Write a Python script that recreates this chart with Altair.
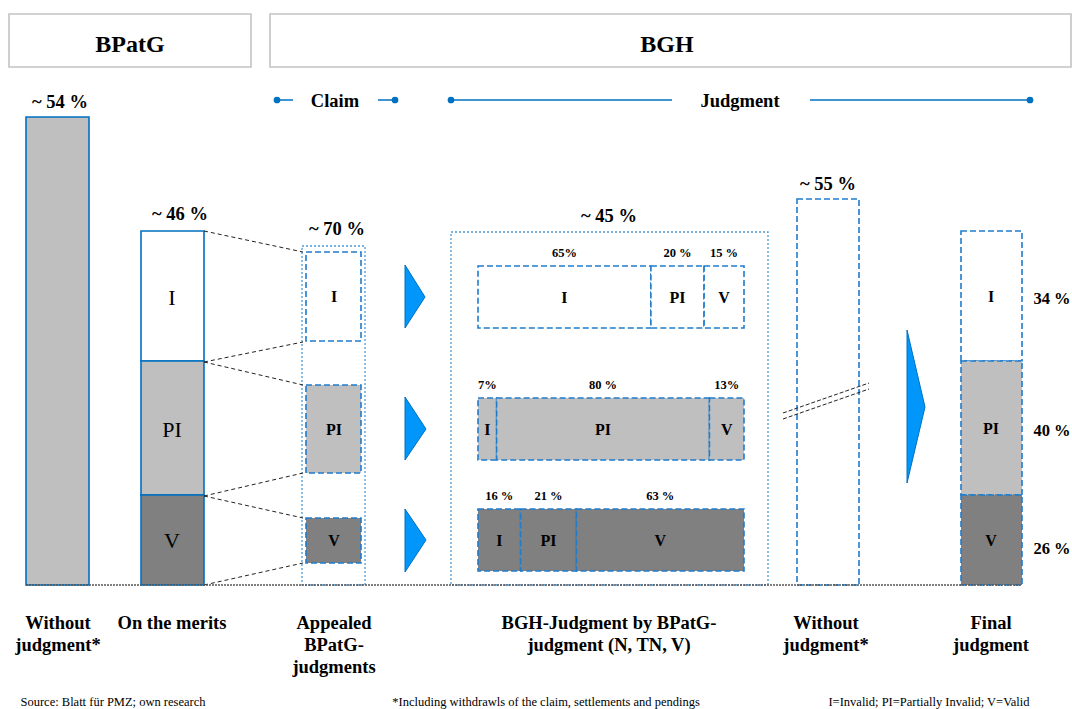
import altair as alt
import pandas as pd

# ---------------- data ----------------
categories = ["I", "PI", "V"]
courts = ["BPatG", "BGH"]
phases = ["Claim", "Judgment"]
stage_totals = ["~ 54 %", "~ 46 %", "~ 70 %", "~ 45 %", "~ 55 %"]
bgh_row_shares = [[65, 20, 15], [7, 80, 13], [16, 21, 63]]
bgh_row_labels = [["65%", "20 %", "15 %"], ["7%", "80 %", "13%"], ["16 %", "21 %", "63 %"]]
final_labels = ["34 %", "40 %", "26 %"]
stage_names = [
    "Without\njudgment*",
    "On the merits",
    "Appealed\nBPatG-\njudgments",
    "BGH-Judgment by BPatG-\njudgment (N, TN, V)",
    "Without\njudgment*",
    "Final\njudgment",
]
footnotes = [
    "Source: Blatt für PMZ; own research",
    "*Including withdrawls of the claim, settlements and pendings",
    "I=Invalid; PI=Partially Invalid; V=Valid",
]

# ---------------- layout / style ----------------
W, H = 1072, 709
FONT = "Liberation Serif, Times New Roman, DejaVu Serif, serif"
BASE = 585
cat_fill = {"I": "#ffffff", "PI": "#bfbfbf", "V": "#808080"}
BLUE = "#0070c0"
DASH_BLUE = "#1f7ccc"
DOT_BLUE = "#4b9bd8"

stack_bounds = [231, 361, 495, 585]          # schematic vertical stacks
appealed_boxes = [(252, 341), (385, 473), (518, 563)]
row_y = [(266, 328), (398, 460), (509, 571)]
ROW_X0, ROW_W = 478, 266

xs = alt.Scale(domain=[0, W], nice=False, zero=False)
ys = alt.Scale(domain=[0, H], nice=False, zero=False, reverse=True)


def X(f):
    return alt.X(f"{f}:Q", scale=xs, axis=None)


def Y(f):
    return alt.Y(f"{f}:Q", scale=ys, axis=None)


def rect_layer(rows, **style):
    df = pd.DataFrame(rows, columns=["x0", "x1", "y0", "y1", "fill"])
    return alt.Chart(df).mark_rect(**style).encode(
        x=X("x0"), x2=alt.X2("x1"), y=Y("y0"), y2=alt.Y2("y1"),
        fill=alt.Fill("fill:N", scale=None),
    )


def rule_layer(rows, **style):
    df = pd.DataFrame(rows, columns=["xa", "ya", "xb", "yb"])
    return alt.Chart(df).mark_rule(**style).encode(
        x=X("xa"), y=Y("ya"), x2=alt.X2("xb"), y2=alt.Y2("yb"))


def text_layer(rows, weight="bold", align="center"):
    df = pd.DataFrame(rows, columns=["x", "y", "text", "size"])
    return alt.Chart(df).mark_text(
        font=FONT, fontWeight=weight, baseline="alphabetic", align=align,
        lineBreak="\n", lineHeight=22, color="black",
    ).encode(x=X("x"), y=Y("y"), text="text:N", size=alt.Size("size:Q", scale=None))


# header boxes
header = rect_layer([(9, 251, 14, 67, "#ffffff"), (270, 1071, 14, 67, "#ffffff")],
                    stroke="#c4c4c4", strokeWidth=1.6)

# outer dotted boxes
outer = rect_layer([(302, 365, 246, BASE, "#ffffff"), (451, 768, 232, BASE, "#ffffff")],
                   stroke=DOT_BLUE, strokeWidth=1.3, strokeDash=[2, 2])

# solid bordered bars
solid_rows = [(26, 89, 117, BASE, "#bfbfbf")]
for i, c in enumerate(categories):
    solid_rows.append((141, 204, stack_bounds[i], stack_bounds[i + 1], cat_fill[c]))
solid = rect_layer(solid_rows, stroke=BLUE, strokeWidth=1.6)

# dashed boxes
dashed_rows = []
for (y0, y1), c in zip(appealed_boxes, categories):
    dashed_rows.append((306, 361, y0, y1, cat_fill[c]))
seg_text = []
pct_text = []
for r, shares in enumerate(bgh_row_shares):
    total = sum(shares)
    cum = 0
    y0, y1 = row_y[r]
    for k, (c, s) in enumerate(zip(categories, shares)):
        xa = ROW_X0 + ROW_W * cum / total
        cum += s
        xb = ROW_X0 + ROW_W * cum / total
        dashed_rows.append((xa, xb, y0, y1, cat_fill[categories[r]]))
        seg_text.append(((xa + xb) / 2, (y0 + y1) / 2 + 5.5, c, 16))
        pct_text.append(((xa + xb) / 2, y0 - 9, bgh_row_labels[r][k], 12.5))
dashed_rows.append((797, 859, 199, BASE, "#ffffff"))
for i, c in enumerate(categories):
    dashed_rows.append((961, 1022, stack_bounds[i], stack_bounds[i + 1], cat_fill[c]))
dashed = rect_layer(dashed_rows, stroke=DASH_BLUE, strokeWidth=1.6, strokeDash=[6, 3])

# connector lines
connectors = rule_layer(
    [(204, 231, 303, 252), (204, 362, 303, 342), (204, 362, 303, 385),
     (204, 496, 303, 473), (204, 496, 303, 518), (204, 585, 303, 563)],
    color="#222222", strokeWidth=1, strokeDash=[4, 3])

breaks = rule_layer([(783, 413, 869, 383), (783, 419, 869, 389)],
                    color="#222222", strokeWidth=1, strokeDash=[4, 2])

baseline = rule_layer([(26, BASE, 1022, BASE)], color="#555555", strokeWidth=1.3,
                      strokeDash=[2, 1])

# timeline lines and dots
tl = rule_layer([(277, 100, 293, 100), (378, 100, 395, 100), (451, 100, 672, 100),
                 (810, 100, 1030, 100)], color=BLUE, strokeWidth=1.5)
dots_df = pd.DataFrame({"x": [277, 395, 451, 1030], "y": [100, 100, 100, 100]})
dots = alt.Chart(dots_df).mark_circle(size=45, color=BLUE, opacity=1).encode(x=X("x"), y=Y("y"))

# arrows
arrow_rows = [
    ("a1", 405, 265, 328), ("a1", 425, 297, 297),
    ("a2", 405, 397, 460), ("a2", 426, 429, 429),
    ("a3", 405, 509, 572), ("a3", 426, 540, 540),
    ("a4", 907, 330, 483), ("a4", 925, 407, 407),
]
arrows_df = pd.DataFrame(arrow_rows, columns=["id", "x", "y", "y2"])
arrows = alt.Chart(arrows_df).mark_area(
    color="#0096fa", stroke="#0070c0", strokeWidth=1, interpolate="linear", opacity=1
).encode(x=X("x"), y=Y("y"), y2=alt.Y2("y2"), detail="id:N")

# texts
bold_rows = [
    (130, 52, courts[0], 24), (667, 52, courts[1], 24),
    (335, 107, phases[0], 18.5), (740, 107, phases[1], 18.5),
    (60, 108, stage_totals[0], 18.5), (180, 220, stage_totals[1], 18.5),
    (337, 235, stage_totals[2], 18.5), (609, 222, stage_totals[3], 18.5),
    (828, 190, stage_totals[4], 18.5),
]
app_y = [302, 435, 546]
fin_y = [302, 434, 546]
rp_y = [304, 436, 554]
for i, c in enumerate(categories):
    bold_rows.append((334, app_y[i], c, 16))
    bold_rows.append((991, fin_y[i], c, 16))
    bold_rows.append((1052, rp_y[i], final_labels[i], 16.5))
bold_rows += seg_text + pct_text
stage_x = [58, 172, 334, 609, 826, 991]
for x, name in zip(stage_x, stage_names):
    bold_rows.append((x, 629, name, 18.5))
bold_text = text_layer(bold_rows)

reg_rows = []
mer_y = [305, 437, 548]
for i, c in enumerate(categories):
    reg_rows.append((172, mer_y[i], c, 22))
foot_x = [113, 546, 929]
for x, t in zip(foot_x, footnotes):
    reg_rows.append((x, 706, t, 12.5))
reg_text = text_layer(reg_rows, weight="normal")

chart = alt.layer(
    header, outer, solid, dashed, connectors, breaks, baseline, tl, dots, arrows,
    bold_text, reg_text,
).properties(
    width=W, height=H, padding=0, autosize=alt.AutoSizeParams(type="none"),
    background="white",
).configure_view(stroke=None).configure_text(font=FONT)

chart.save("out.html", embed_options={"renderer": "svg", "actions": False})
